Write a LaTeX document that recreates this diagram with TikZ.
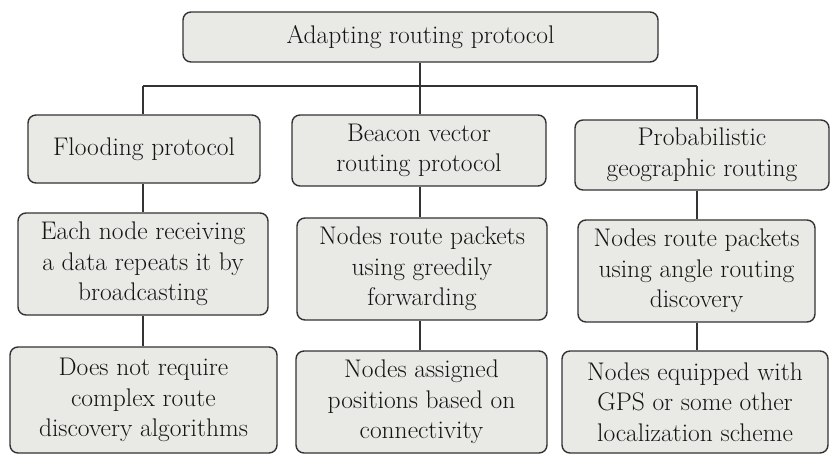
\documentclass[tikz,border=0pt]{standalone}
\begin{document}
\begin{tikzpicture}[x=1pt,y=-1pt,
  box/.style={draw=black!80, line width=1.4pt, fill=boxfill, rounded corners=8pt,
    align=center, inner sep=0pt, text=black!92,
    font=\fontsize{25.5}{30.5}\selectfont},
  link/.style={draw=black!80, line width=1.4pt}]
\definecolor{boxfill}{HTML}{E9EAE6}
\useasboundingbox (0,0) rectangle (830,455);

% root
\node[box, minimum width=475pt, minimum height=50pt] (root) at (420.5,37) {Adapting routing protocol};

% second level
\node[box, minimum width=232pt, minimum height=68pt] (flood) at (144,149) {Flooding protocol};
\node[box, minimum width=254pt, minimum height=71pt] (beacon) at (419,150.5) {Beacon vector\\routing protocol};
\node[box, minimum width=254pt, minimum height=70pt] (prob) at (702,155) {Probabilistic\\geographic routing};

% third level
\node[box, minimum width=250pt, minimum height=102pt] (each) at (143,264) {Each node receiving\\a data repeats it by\\broadcasting};
\node[box, minimum width=250pt, minimum height=102pt] (greedy) at (422,269) {Nodes route packets\\using greedily\\forwarding};
\node[box, minimum width=237pt, minimum height=102pt] (angle) at (696.5,271) {Nodes route packets\\using angle routing\\discovery};

% fourth level
\node[box, minimum width=267pt, minimum height=106pt] (simple) at (143.5,400) {Does not require\\complex route\\discovery algorithms};
\node[box, minimum width=251pt, minimum height=102pt] (assigned) at (421.5,402) {Nodes assigned\\positions based on\\connectivity};
\node[box, minimum width=266pt, minimum height=102pt] (gps) at (695,402) {Nodes equipped with\\GPS or some other\\localization scheme};

% bus below the root
\coordinate (busL) at (143,86);
\coordinate (busM) at (420,86);
\coordinate (busR) at (697,86);
\draw[link] (busL) -- (busR);
\draw[link] (busM |- root.south) -- (busM |- beacon.north);
\draw[link] (busL) -- (busL |- flood.north);
\draw[link] (busR) -- (busR |- prob.north);

% column links
\draw[link] (busL |- flood.south) -- (busL |- each.north);
\draw[link] (busL |- each.south) -- (busL |- simple.north);
\draw[link] (busM |- beacon.south) -- (busM |- greedy.north);
\draw[link] (busM |- greedy.south) -- (busM |- assigned.north);
\draw[link] (busR |- prob.south) -- (busR |- angle.north);
\draw[link] (busR |- angle.south) -- (busR |- gps.north);
\end{tikzpicture}
\end{document}
